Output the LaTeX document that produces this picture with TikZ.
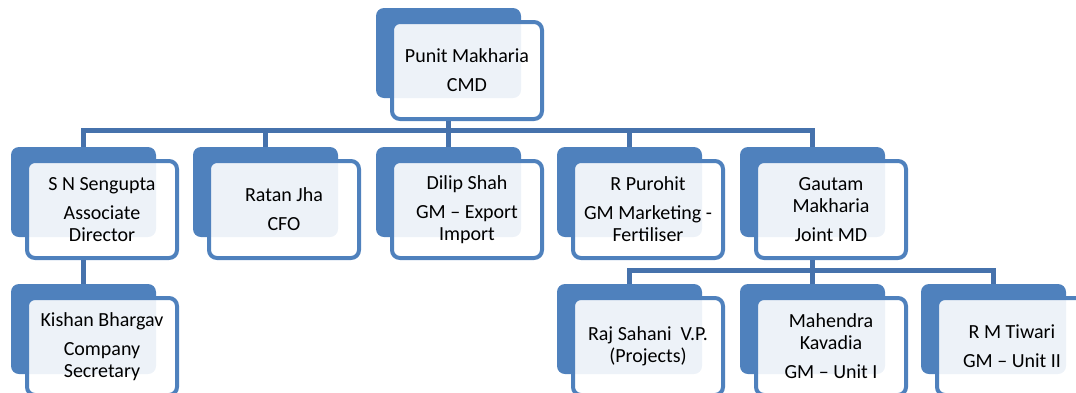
\documentclass[tikz,border=0pt]{standalone}
\usepackage{fontspec}
\setmainfont{Carlito}
\definecolor{boxblue}{HTML}{4F81BD}
\definecolor{lineblue}{HTML}{4672AC}
\tikzset{
  backbox/.style={fill=boxblue, draw=none, rounded corners=4pt, minimum width=72.5pt, minimum height=45pt, inner sep=0pt},
  frontbox/.style={fill=white, fill opacity=0.9, text opacity=1, draw=boxblue, line width=2pt, rounded corners=4pt, minimum width=75pt, minimum height=48.5pt, inner sep=0pt, align=center, font=\fontsize{10}{11}\selectfont},
  conn/.style={draw=lineblue, line width=2.5pt}
}
\newcommand{\orgunit}[4]{%
  \node[backbox] (b#1) at (#2+72.5, #3+45) {};
  \node[frontbox] (f#1) at (#2+91, #3+62.5) {#4};
}
\begin{document}
\begin{tikzpicture}[x=0.5pt,y=-0.5pt]
\useasboundingbox (0,0) rectangle (1076,392);
\clip (0,0) rectangle (1076,392);
\coordinate (bus) at (0,130);
\coordinate (bustwo) at (0,270);
% boxes
\orgunit{top}{376}{8}{Punit Makharia\\[3.5pt]CMD}
\orgunit{sn}{11}{147}{S N Sengupta\\[3.5pt]Associate\\Director}
\orgunit{rj}{193}{147}{Ratan Jha\\[3.5pt]CFO}
\orgunit{ds}{376}{147}{Dilip Shah\\[3.5pt]GM – Export\\Import}
\orgunit{rp}{557}{147}{R Purohit\\[3.5pt]GM Marketing -\\Fertiliser}
\orgunit{gm}{740}{147}{Gautam\\Makharia\\[3.5pt]Joint MD}
\orgunit{kb}{11}{284}{Kishan Bhargav\\[3.5pt]Company\\Secretary}
\orgunit{rs}{557}{284}{Raj Sahani~~V.P.\\(Projects)}
\orgunit{mk}{740}{284}{Mahendra\\Kavadia\\[3.5pt]GM – Unit I}
\orgunit{rm}{921}{284}{R M Tiwari\\[3.5pt]GM – Unit II}
% connectors
\begin{scope}[on background layer/.style={}]
\end{scope}
\draw[conn] (btop |- ftop.south) -- (btop |- bus);
\draw[conn] (bsn.north) -- (bsn |- bus) -- (bgm |- bus) -- (bgm.north);
\draw[conn] (brj.north) -- (brj |- bus);
\draw[conn] (bds.north) -- (bds |- bus);
\draw[conn] (brp.north) -- (brp |- bus);
\draw[conn] (bsn |- fsn.south) -- (bkb.north);
\draw[conn] (bgm |- fgm.south) -- (bgm |- bustwo);
\draw[conn] (brs.north) -- (brs |- bustwo) -- (brm |- bustwo) -- (brm.north);
\draw[conn] (bmk.north) -- (bmk |- bustwo);
\end{tikzpicture}
\end{document}
